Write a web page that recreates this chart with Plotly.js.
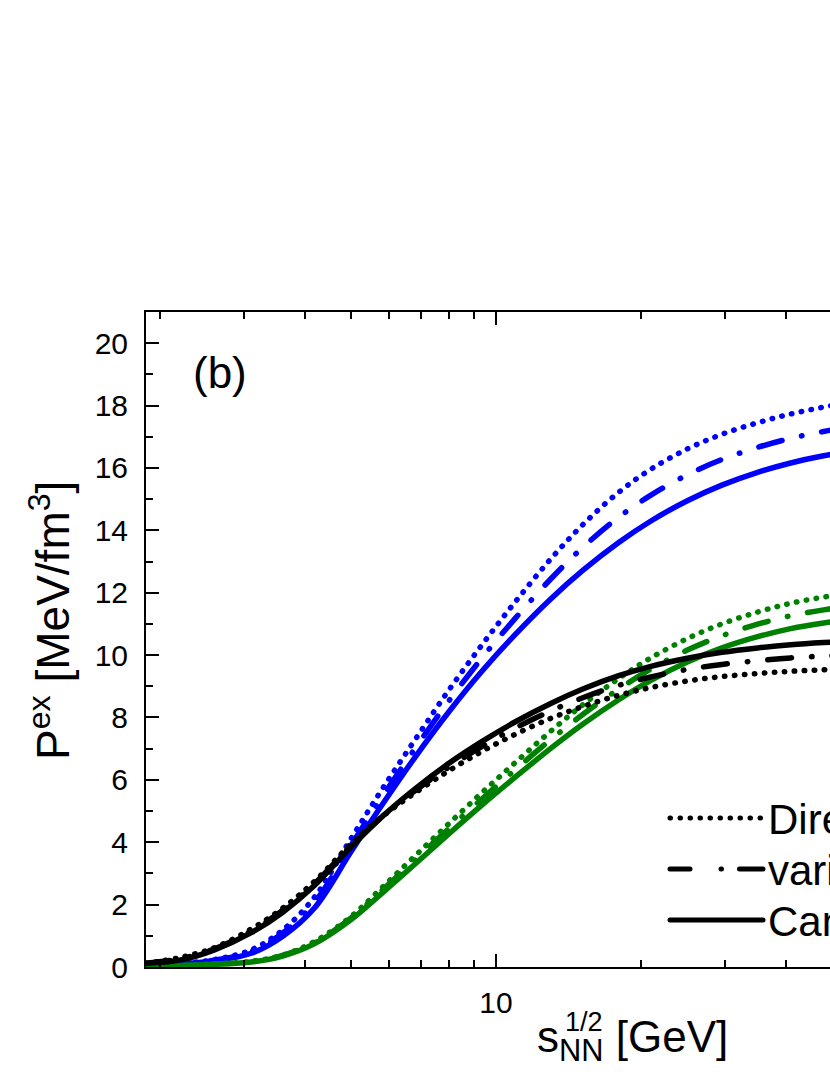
<!DOCTYPE html>
<html>
<head>
<meta charset="utf-8">
<script src="https://cdn.plot.ly/plotly-3.0.1.min.js"></script>
<style>
  html, body { margin: 0; padding: 0; overflow: hidden; background: #fff; }
  #graph { width: 1100px; height: 1075px; }
  /* puntas redondas como en el original */
  #graph path.js-line, #graph .shapelayer path { stroke-linecap: round !important; }
</style>
</head>
<body>
<div id="graph"></div>
<script>
// energias sqrt(s_NN) en GeV
const sqrtS = [1.87, 2.2, 2.6, 3.1, 3.6, 4.2, 5, 5.8, 6.8, 8, 9.4, 11, 13, 15.2, 18, 21, 25, 29.5, 35, 41, 48, 56, 66];

// P^ex [MeV/fm^3] - curvas azules
const azulPuntos = [0.05, 0.11, 0.24, 0.55, 1.18, 2.25, 4.12, 5.7, 7.3, 8.9, 10.37, 11.73, 13.08, 14.2, 15.22, 15.96, 16.61, 17.08, 17.45, 17.73, 17.95, 18.13, 18.29];
const azulRaya   = [0.05, 0.1, 0.22, 0.5, 1.08, 2.08, 3.91, 5.45, 7.02, 8.55, 9.95, 11.2, 12.44, 13.47, 14.42, 15.13, 15.78, 16.27, 16.66, 16.95, 17.17, 17.35, 17.5];
const azulSolida = [0.05, 0.1, 0.2, 0.44, 0.98, 1.9, 3.7, 5.2, 6.74, 8.2, 9.52, 10.68, 11.8, 12.73, 13.61, 14.3, 14.95, 15.45, 15.86, 16.16, 16.39, 16.56, 16.7];

// curvas verdes
const verdePuntos = [0.03, 0.05, 0.1, 0.18, 0.38, 0.82, 1.62, 2.55, 3.57, 4.61, 5.62, 6.57, 7.56, 8.42, 9.25, 9.91, 10.53, 11.0, 11.38, 11.66, 11.86, 12.01, 12.14];
const verdeRaya   = [0.03, 0.05, 0.09, 0.17, 0.37, 0.78, 1.57, 2.46, 3.44, 4.45, 5.42, 6.34, 7.29, 8.11, 8.91, 9.55, 10.16, 10.62, 10.99, 11.26, 11.45, 11.59, 11.71];
const verdeSolida = [0.03, 0.05, 0.09, 0.16, 0.35, 0.75, 1.52, 2.37, 3.31, 4.28, 5.22, 6.1, 7.01, 7.8, 8.57, 9.19, 9.78, 10.23, 10.59, 10.85, 11.03, 11.16, 11.27];

// curvas negras
const negroPuntos = [0.12, 0.3, 0.62, 1.22, 1.88, 2.75, 3.95, 4.82, 5.59, 6.3, 6.93, 7.47, 7.97, 8.36, 8.71, 8.96, 9.17, 9.31, 9.41, 9.48, 9.53, 9.57, 9.61];
const negroRaya   = [0.12, 0.26, 0.58, 1.16, 1.81, 2.68, 3.9, 4.82, 5.66, 6.42, 7.09, 7.67, 8.21, 8.64, 9.03, 9.3, 9.54, 9.7, 9.82, 9.91, 9.97, 10.01, 10.05];
const negroSolida = [0.12, 0.22, 0.55, 1.1, 1.75, 2.62, 3.85, 4.82, 5.72, 6.54, 7.25, 7.87, 8.45, 8.92, 9.34, 9.64, 9.9, 10.09, 10.23, 10.33, 10.4, 10.45, 10.49];

const leyenda = ['Direct', 'various', 'Canonical'];
const ticksY = [0, 2, 4, 6, 8, 10, 12, 14, 16, 18, 20];

const AZUL = '#0000ff', VERDE = '#008000', NEGRO = '#000000';
const PUNTO = '0.5px,9.5px';
const RAYAPUNTO = '24px,20px,0.5px,20px';
const FUENTE = 'Arial, "Liberation Sans", sans-serif';

// area del grafico en pixeles
const L = 146, R = 1000, T = 312, B = 967, W = 1100, H = 1075;
const px = x => (x - L) / (R - L);
const py = y => (B - y) / (B - T);

function curva(y, color, dash) {
  return {
    x: sqrtS, y: y, mode: 'lines', type: 'scatter',
    line: {color: color, width: 5.5, dash: dash, shape: 'spline', smoothing: 1},
    showlegend: false, hoverinfo: 'skip'
  };
}

let data = [
  curva(azulPuntos, AZUL, PUNTO), curva(azulRaya, AZUL, RAYAPUNTO), curva(azulSolida, AZUL, 'solid'),
  curva(verdePuntos, VERDE, PUNTO), curva(verdeRaya, VERDE, RAYAPUNTO), curva(verdeSolida, VERDE, 'solid'),
  curva(negroPuntos, NEGRO, PUNTO), curva(negroRaya, NEGRO, RAYAPUNTO), curva(negroSolida, NEGRO, 'solid')
];

// leyenda dibujada a mano
const estilos = ['0.5px,9.5px', '20px,31px,0.5px,18px,30px', 'solid'];
const filasY = [818, 869, 920];
let shapes = [], annotations = [];
leyenda.forEach((txt, i) => {
  shapes.push({type: 'line', xref: 'paper', yref: 'paper',
    x0: px(670), x1: px(763), y0: py(filasY[i]), y1: py(filasY[i]),
    line: {color: NEGRO, width: 5, dash: estilos[i]}});
  annotations.push({xref: 'paper', yref: 'paper', x: px(766), y: py(filasY[i] + 1),
    xanchor: 'left', yanchor: 'middle', showarrow: false, text: txt,
    font: {family: FUENTE, size: 42, color: NEGRO}});
});

annotations.push({xref: 'paper', yref: 'paper', x: px(220), y: py(372), xanchor: 'center', yanchor: 'middle',
  showarrow: false, text: '(b)', font: {family: FUENTE, size: 44, color: NEGRO}});

// titulo eje x
annotations.push({xref: 'paper', yref: 'paper', x: px(535), y: py(1040), xanchor: 'left', yanchor: 'middle',
  showarrow: false, text: 's<sub>NN</sub> [GeV]', font: {family: FUENTE, size: 44, color: NEGRO}});
annotations.push({xref: 'paper', yref: 'paper', x: px(563), y: py(1022), xanchor: 'left', yanchor: 'middle',
  showarrow: false, text: '1/2', font: {family: FUENTE, size: 27, color: NEGRO}});

// titulo eje y
annotations.push({xref: 'paper', yref: 'paper', x: px(50), y: py(621), xanchor: 'center', yanchor: 'middle',
  textangle: -90, showarrow: false, text: 'P<sup>ex</sup> [MeV/fm<sup>3</sup>]',
  font: {family: FUENTE, size: 46, color: NEGRO}});

let layout = {
  width: W, height: H,
  margin: {l: L, r: W - R, t: T, b: H - B},
  paper_bgcolor: '#fff', plot_bgcolor: '#fff',
  showlegend: false,
  font: {family: FUENTE, color: NEGRO},
  xaxis: {
    type: 'log',
    range: [Math.log10(1.873), Math.log10(1.873) + (R - L) / 481],
    tickmode: 'array', tickvals: [10, 100], ticktext: ['10', '100'],
    ticks: 'inside', ticklen: 13, tickwidth: 2, tickcolor: NEGRO,
    minor: {tickmode: 'array', tickvals: [2, 3, 4, 5, 6, 7, 8, 9, 20, 30, 40, 50, 60, 70, 80, 90],
            ticks: 'inside', ticklen: 7, tickwidth: 2, tickcolor: NEGRO, showgrid: false},
    showline: true, linecolor: NEGRO, linewidth: 2, mirror: 'allticks',
    showgrid: false, zeroline: false,
    tickfont: {family: FUENTE, size: 30, color: NEGRO}, ticklabelstandoff: 8
  },
  yaxis: {
    range: [0, 21],
    tickmode: 'array', tickvals: ticksY,
    ticks: 'inside', ticklen: 13, tickwidth: 2, tickcolor: NEGRO,
    minor: {dtick: 1, ticks: 'inside', ticklen: 7, tickwidth: 2, tickcolor: NEGRO, showgrid: false},
    showline: true, linecolor: NEGRO, linewidth: 2, mirror: 'allticks',
    showgrid: false, zeroline: false,
    tickfont: {family: FUENTE, size: 30, color: NEGRO}, ticklabelstandoff: 10
  },
  shapes: shapes,
  annotations: annotations
};

Plotly.newPlot('graph', data, layout, {displaylogo: false, displayModeBar: false, staticPlot: true});
</script>
</body>
</html>
